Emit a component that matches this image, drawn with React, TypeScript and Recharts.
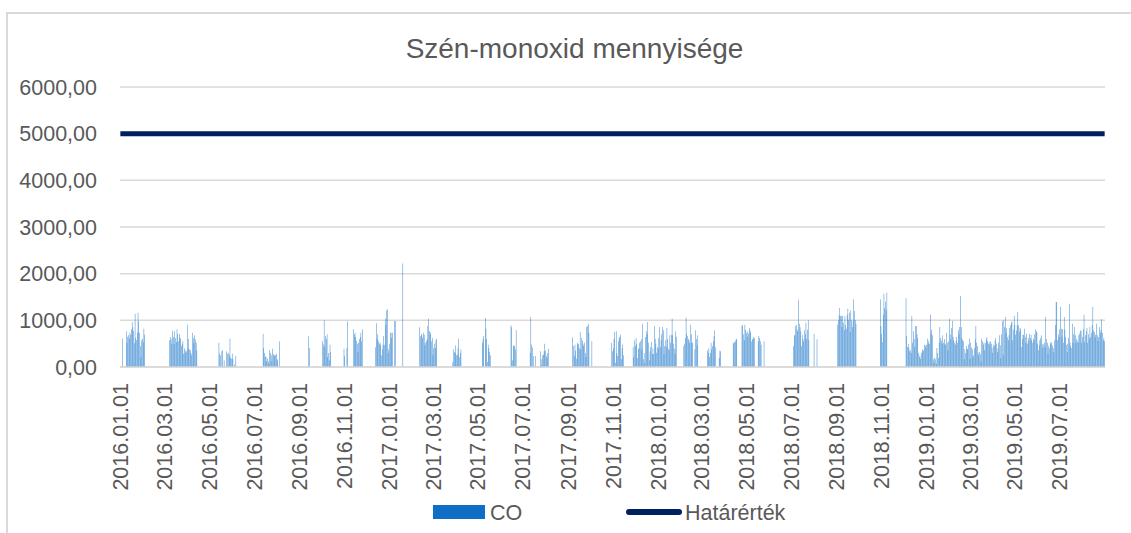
import React from 'react';
import { ComposedChart, Bar, Line, XAxis, YAxis, CartesianGrid, Legend } from 'recharts';

const FONT = '"Liberation Sans", Arial, sans-serif';

const chartTitle = 'Szén-monoxid mennyisége';
const firstDay = '2016.01.01';
const lastDay = '2019.08.31';
const xTickLabels = [
  '2016.01.01', '2016.03.01', '2016.05.01', '2016.07.01', '2016.09.01', '2016.11.01',
  '2017.01.01', '2017.03.01', '2017.05.01', '2017.07.01', '2017.09.01', '2017.11.01',
  '2018.01.01', '2018.03.01', '2018.05.01', '2018.07.01', '2018.09.01', '2018.11.01',
  '2019.01.01', '2019.03.01', '2019.05.01', '2019.07.01',
];
const yTicks = [0, 1000, 2000, 3000, 4000, 5000, 6000];
const limitValue = 5000;
const coName = 'CO';
const limitName = 'Határérték';

type Run = [string, (number | null)[]];

// daily CO measurements: [first day of run, one value per day]
const coRuns2016: Run[] = [
  ['2016.01.04', [610]],
  ['2016.01.09', [764, 507, 650, 678, 607, 735, 690, 807, 964, 850, 778, 507, 1142, 620, 578, 735, 1164, 980, 735, 450, 221, 571, 607, 530, 821, 690]],
  ['2016.03.08', [571, 643, 600, 500, 778, 650, 500, 764, 620, 535, 807, 700, 550, 707, 640, 607, 450, 500, 550, 285, 400, 307, 357, 330, 907, 393, 600, 378, 357, 300, 250, 735, 620, 507, 678, 590, 521, 357]],
  ['2016.05.14', [521, 285, 250, null, 336, 357, null, 143, null, null, 336, null, 285, 300, 250, 607, 200, 178, 285, 178, null, 57, null, 236]],
  ['2016.07.13', [707, 407, 300, 228, 214, 121, 180, 121, 71, 357, 300, 250, 121, 393, 280, 236, 250, 264, 285, 164, 143, null, 550]],
  ['2016.09.13', [657, 407]],
  ['2016.10.02', [550, 480, 1000, 428, 664, 600, 700, 214, 300, 143, 478, 321]],
  ['2016.10.31', [393, 228, null, null, 407, 978]],
  ['2016.11.13', [807, 690, 735, 643, 560, 500, 321, 521, 600, 643, 735, 550, 807]],
  ['2016.12.13', [421, 935, 607, 700, 550, 500, 521, 464, 250, 380, 478, 664, 478, 1035, 900, 1214, 1235, 378, 307, 500, 735, 735, 620, 735]],
];

const coRuns2017: Run[] = [
  ['2017.01.08', [985, 985]],
  ['2017.01.19', [2220]],
  ['2017.02.11', [850, 657, 714, 680, 621, 735, 692, 464, 521, 560, 593, 878, 1035, 764, 750, 700, 550, 621, 250, 400, 500, 407, 571, 600]],
  ['2017.03.28', [107, 378, 321, 300, 464, 250, 264, 400, 607, 214, 300, 378]],
  ['2017.05.07', [521, 600, 664, null, 1050, 821, 600, 107, 478, 400, 321, 250]],
  ['2017.06.15', [893, 850, 143, 450, 464, 450, 378, 785]],
  ['2017.07.11', [307, 1071, 478, 420, null, 236, null, 236]],
  ['2017.07.25', [336, 36, 164, 250, 264, 336, 500, 350, 236, 193, 300, 393]],
  ['2017.09.07', [636, 450, 236, 478, 350, 178, 521, 480, 500, 400, 750, 378, 621, 560, 500, 450, 521, 300, 214, 857, 880, 928, 735, null, null, null, 550]],
  ['2017.10.30', [521, 336, 400, 600, 750, 93, 764, 300, 236, 550, 621, 650, 692, 164, 400, 478, 250]],
  ['2017.11.28', [428, 207, 571, 450, 621, 500, 193, 380, 407, 521, 550, 600, 378, 928, 164, 300, 93, 643, 764, 700, 964, 521, 143, 330, 428, 535, 278, 400, 278, 878, 607, 500, 307, 428, 393, 620, 857, 428, 571, 700, 857, 785, 278, 450, 571, 428, 835, 600, 393, 357, 678, 520, 692, 1035, 678, 500, 393, 285, 764, 650]],
];

const coRuns2018: Run[] = [
  ['2018.02.05', [450, 500, 620, 1057, 714, 664, 600, 571, 521, 907, 700, 521, 521, null, null, 378, 785, 600, 464, 678]],
  ['2018.03.09', [357, 307, 400, 214, 300, 521, 378, 450, 550, 664, 785, 421, null, null, null, null, 193, 350, 336]],
  ['2018.04.13', [521, 500, 535, 550, 600, 593]],
  ['2018.04.25', [878, 907, 700, 571, 907, 800, 735, 650, 764, 714, 835, 780, 735, 550, 600, 593, 643, 621]],
  ['2018.05.17', [550, 664, 621, 550, 478]],
  ['2018.05.25', [550]],
  ['2018.07.04', [450, 678, 678, 878, 907, 800, 764, 1442, 928, 850, 764, 450, 692, 600, 550, 785, 700, 950, 607, 800, 1000, 571]],
  ['2018.08.01', [714]],
  ['2018.08.05', [593]],
  ['2018.09.02', [907, 1000, 1107, 1264, 1100, 1092, 857, 1092, 950, 785, 1092, 900, 821, 1121, 1250, 1000, 1164, 750, 1214, 1000, 857, 978, 1450, 1200, 1000, 928]],
  ['2018.10.30', [1450, 878, 700, 535, 1121, 1571, 1264, 1400, 1214, 1592]],
  ['2018.12.04', [1478, 664, 428, 500, 407, 336, 357, 300, 1092, 521, 764, 600, 428, 878, 878, 700, 621, 307, 214, 250, 178, 307, 378, 330, 357, 478, 464, 420, 478, 607, 500, 560, 500, 1121, 714, 800, 678, 164, 93, 200, 164, 71, 407, 300, 193]],
];

const coRuns2019: Run[] = [
  ['2019.01.18', [
    521, 857, 621, 560, 500, 678, 521, 600, 500, 478, 735, 520, 357, 550, 1035, 700,
    593, 835, 992, 650, 571, 521, 478, 560, 643, 521, 785, 700, 857, 1521, 857, 620, 580,
    550, 164, 378, 300, 450, 378, 393, 480, 607, 178, 521, 420, 378, 214, 250, 400,
    593, 878, 521, 450, 307, 250, 321, 280, 121, 607, 550, 480, 521, 357, 521, 600,
    636, 550, 500, 530, 478, 550, 500, 420, 307, 478, 450, 560, 621, 500, 321, 400, 520,
    678, 464, 193, 700, 978, 264, 1000, 850, 1071, 735, 835, 640, 571, 678, 835, 900,
    950, 978, 571, 800, 1092, 907, 692, 780, 893, 1178, 893, 760, 835, 807, 428, 600,
    692, 692, 821, 650, 521, 714, 500, 620, 560, 714, 621, 692, 580, 521, 607, 571, 700,
    807, 764, 735, 500, 357, 464, 571, 620, 678, 500, 407, 480, 521, 428, 1071, 600,
    521, 285, 450, 400, 500, 535, 521, 460, 407, 321, 571, 900, 1393, 1393, 571, 700, 640,
    807, 1285, 821, 650, 807, 521, 1071, 800, 643, 478, 321, 500, 621, 1357, 521, 450,
    407, 928, 521, 700, 857, 678, 521, 600, 550, 521, 678, 720, 785, 764, 521, 650,
    807, 1121, 535, 680, 764, 835, 521, 700, 610, 857, 643, 735, 900, 1285, 785, 750, 640,
    692, 928, 678, 560, 643, 857, 735, 800, 1021, 735, 571, 620, 550,
  ]],
];

const DAY = 86400000;
const parseDay = (s: string) => {
  const [y, m, d] = s.split('.').map(Number);
  return Date.UTC(y, m - 1, d);
};
const fmtDay = (t: number) => {
  const dt = new Date(t);
  const mm = String(dt.getUTCMonth() + 1).padStart(2, '0');
  const dd = String(dt.getUTCDate()).padStart(2, '0');
  return `${dt.getUTCFullYear()}.${mm}.${dd}`;
};

const buildData = () => {
  const start = parseDay(firstDay);
  const end = parseDay(lastDay);
  const rows: { date: string; co: number | null; limit: number }[] = [];
  for (let t = start; t <= end; t += DAY) rows.push({ date: fmtDay(t), co: null, limit: limitValue });
  [...coRuns2016, ...coRuns2017, ...coRuns2018, ...coRuns2019].forEach(([s, vals]) => {
    const idx = Math.round((parseDay(s) - start) / DAY);
    vals.forEach((v, i) => {
      if (rows[idx + i]) rows[idx + i].co = v;
    });
  });
  return rows;
};
const chartData = buildData();

const fmtY = (v: number) => v.toFixed(2).replace('.', ',');

const DateTick = (props: any) => {
  const { x, y, payload } = props;
  return (
    <text
      x={x}
      y={y}
      transform={`rotate(-90 ${x} ${y})`}
      textAnchor="end"
      dy="0.35em"
      fill="#595959"
      fontSize={21.5}
      fontFamily={FONT}
    >
      {payload.value}
    </text>
  );
};

const renderLegend = (props: any) => {
  const payload = props.payload || [];
  const co = payload.find((p: any) => p.value === coName);
  const lim = payload.find((p: any) => p.value === limitName);
  return (
    <svg width={1131} height={34} style={{ display: 'block' }}>
      <rect x={433} y={10} width={52} height={14} fill={co ? co.color : '#0F6FC6'} />
      <text x={490} y={17} dy="0.35em" fontSize={21.5} fill="#595959" fontFamily={FONT}>{coName}</text>
      <line x1={629} x2={679} y1={17} y2={17} stroke={lim ? lim.color : '#002060'} strokeWidth={6} strokeLinecap="round" />
      <text x={685} y={17} dy="0.35em" fontSize={21.5} fill="#595959" fontFamily={FONT}>{limitName}</text>
    </svg>
  );
};

export default function App() {
  return (
    <div style={{ position: 'absolute', left: 0, top: 0, width: 1131, height: 533, background: '#ffffff' }}>
      <ComposedChart
        width={1131}
        height={533}
        data={chartData}
        margin={{ top: 87, right: 26, bottom: 20, left: 0 }}
        barCategoryGap="22%"
      >
        <CartesianGrid vertical={false} stroke="#d9d9d9" strokeWidth={1.5} />
        <XAxis
          dataKey="date"
          type="category"
          ticks={xTickLabels}
          interval={0}
          tick={(p: any) => <DateTick {...p} />}
          tickLine={false}
          tickSize={6}
          tickMargin={10}
          height={146}
          axisLine={{ stroke: '#d9d9d9', strokeWidth: 1.5 }}
        />
        <YAxis
          domain={[0, 6000]}
          ticks={yTicks}
          width={120}
          axisLine={false}
          tickLine={false}
          tickSize={6}
          tickMargin={17}
          tickFormatter={fmtY}
          tick={{ fill: '#595959', fontSize: 21.5, fontFamily: FONT }}
        />
        <Bar dataKey="co" name={coName} fill="#0F6FC6" isAnimationActive={false} />
        <Line
          dataKey="limit"
          name={limitName}
          type="linear"
          stroke="#002060"
          strokeWidth={5}
          dot={false}
          activeDot={false}
          isAnimationActive={false}
        />
        <Legend
          layout="horizontal"
          verticalAlign="middle"
          align="center"
          wrapperStyle={{ top: 495, left: 0, width: 1131, height: 34 }}
          content={renderLegend}
        />
      </ComposedChart>
      <svg
        width={1131}
        height={533}
        style={{ position: 'absolute', left: 0, top: 0, pointerEvents: 'none' }}
      >
        <line x1={7} x2={7} y1={12} y2={533} stroke="#d9d9d9" strokeWidth={2} />
        <line x1={6} x2={1131} y1={13} y2={13} stroke="#d9d9d9" strokeWidth={2} />
        <text x={574.5} y={58} textAnchor="middle" fontSize={28} fill="#595959" fontFamily={FONT}>
          {chartTitle}
        </text>
      </svg>
    </div>
  );
}
